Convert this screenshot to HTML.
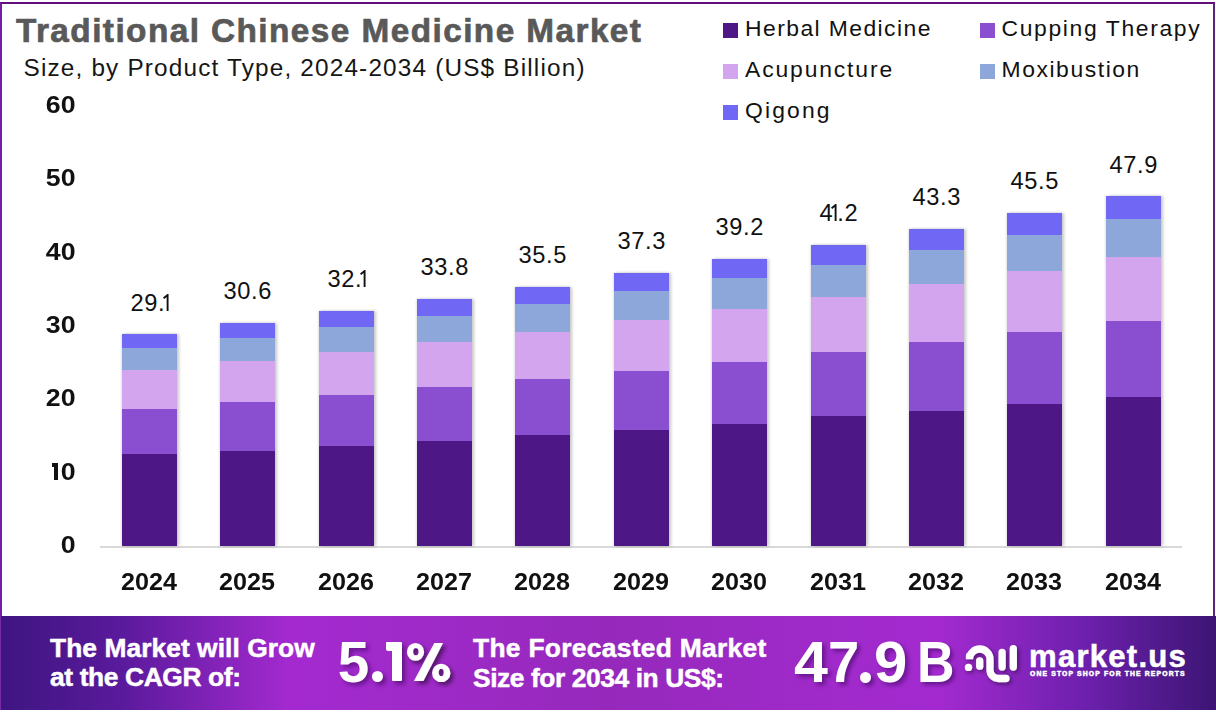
<!DOCTYPE html>
<html><head><meta charset="utf-8">
<style>
*{margin:0;padding:0;box-sizing:border-box}
html,body{width:1216px;height:712px;overflow:hidden;background:#fff;font-family:"Liberation Sans",sans-serif}
div{position:absolute;white-space:nowrap}
.frame{left:0;top:2px;width:1215px;height:620px;border:2px solid #6a1fa0;border-left-color:#7420a6;border-top-color:#640e7c;border-right-color:#562478;border-bottom:none}
.lb{left:0;top:616px;width:1px;height:94px;background:#7a2aa8;z-index:2}
.title{left:16px;top:14.3px;font-size:33.33px;line-height:33.33px;font-weight:bold;color:#595959;letter-spacing:1.44px;-webkit-text-stroke:0.7px #595959}
.sub{left:23.5px;top:55.8px;font-size:24.35px;line-height:24.35px;color:#161616;letter-spacing:1.17px}
.leg{font-size:22.9px;line-height:22.9px;color:#111}
.sw{width:15px;height:15px}
.bar{width:55px;box-shadow:2px 0 3px rgba(0,0,0,0.22),-1px 0 2px rgba(0,0,0,0.1)}
.seg{left:0;width:55px}
.val{width:120px;text-align:center;font-size:23.66px;line-height:23.66px;color:#111}
.one{display:inline-block;vertical-align:baseline;margin-left:-2.6px}
.yr{width:120px;text-align:center;font-size:24.08px;line-height:24.08px;font-weight:bold;color:#111;transform:scaleX(1.045)}
.yl{left:0;width:75.6px;text-align:right;font-size:24.08px;line-height:24.08px;font-weight:bold;color:#111;transform:scaleX(1.11);transform-origin:100% 0}
.axis{left:100px;top:546px;width:1082px;height:2px;background:#d9d9d9}
.banner{left:0;top:616px;width:1216px;height:94px;background:linear-gradient(90deg,#3e1580 0%,#5a1a9c 10%,#a42ad0 24%,#9629bc 50%,#a42ad0 77%,#6e20ae 89%,#3c1574 100%)}
.bt{color:#fff;font-weight:bold;-webkit-text-stroke:0.5px #fff}
.big{color:#fff;font-weight:bold;font-size:56.71px;line-height:56.71px;text-shadow:3px 3px 4px rgba(40,0,70,0.45)}
</style></head><body>
<div class="frame"></div>
<div class="title">Traditional Chinese Medicine Market</div>
<div class="sub">Size, by Product Type, 2024-2034 (US$ Billion)</div>
<div class="sw" style="left:723px;top:23.2px;background:#4e1786"></div><div class="leg" style="left:745.1px;top:16.6px;letter-spacing:1.42px">Herbal Medicine</div><div class="sw" style="left:979.5px;top:23.2px;background:#8a4fd0"></div><div class="leg" style="left:1001.5px;top:16.6px;letter-spacing:1.64px">Cupping Therapy</div><div class="sw" style="left:723px;top:64.2px;background:#d3a5ee"></div><div class="leg" style="left:745.1px;top:57.7px;letter-spacing:1.85px">Acupuncture</div><div class="sw" style="left:979.5px;top:64.2px;background:#8ea7da"></div><div class="leg" style="left:1001.5px;top:57.7px;letter-spacing:1.57px">Moxibustion</div><div class="sw" style="left:723px;top:105.2px;background:#7068f5"></div><div class="leg" style="left:745.1px;top:98.8px;letter-spacing:2.12px">Qigong</div>
<div class="yl" style="top:93.0px">60</div><div class="yl" style="top:166.3px">50</div><div class="yl" style="top:239.6px">40</div><div class="yl" style="top:312.9px">30</div><div class="yl" style="top:386.2px">20</div><div class="yl" style="top:459.5px">0</div><div style="left:54px;top:462.8px;width:4.2px;height:17.1px;background:#111"></div><div style="left:51.6px;top:462.8px;width:3px;height:3.9px;background:#111"></div><div class="yl" style="top:532.8px">0</div>
<div class="axis"></div>
<div class="bar" style="left:122px;top:334px;height:212px"><div class="seg" style="top:0px;height:14px;background:#7068f5"></div><div class="seg" style="top:14px;height:22px;background:#8ea7da"></div><div class="seg" style="top:36px;height:39px;background:#d3a5ee"></div><div class="seg" style="top:75px;height:45px;background:#8a4fd0"></div><div class="seg" style="top:120px;height:92px;background:#4e1786"></div></div><div class="val" style="left:89.5px;top:291.5px;letter-spacing:0.67px;text-indent:0.67px">29.<svg class="one" width="6.5" height="17" viewBox="0 0 6.5 17"><path d="M0.6 4.2 L4.6 1.0 L4.6 17" fill="none" stroke="#111" stroke-width="1.9" stroke-linejoin="miter"/></svg></div><div class="yr" style="left:88.5px;top:570.1px">2024</div><div class="bar" style="left:220px;top:323px;height:223px"><div class="seg" style="top:0px;height:15px;background:#7068f5"></div><div class="seg" style="top:15px;height:23px;background:#8ea7da"></div><div class="seg" style="top:38px;height:41px;background:#d3a5ee"></div><div class="seg" style="top:79px;height:49px;background:#8a4fd0"></div><div class="seg" style="top:128px;height:95px;background:#4e1786"></div></div><div class="val" style="left:187.5px;top:280.3px;letter-spacing:0.67px;text-indent:0.67px">30.6</div><div class="yr" style="left:186.5px;top:570.1px">2025</div><div class="bar" style="left:319px;top:311px;height:235px"><div class="seg" style="top:0px;height:16px;background:#7068f5"></div><div class="seg" style="top:16px;height:25px;background:#8ea7da"></div><div class="seg" style="top:41px;height:43px;background:#d3a5ee"></div><div class="seg" style="top:84px;height:51px;background:#8a4fd0"></div><div class="seg" style="top:135px;height:100px;background:#4e1786"></div></div><div class="val" style="left:286.5px;top:268.3px;letter-spacing:0.67px;text-indent:0.67px">32.<svg class="one" width="6.5" height="17" viewBox="0 0 6.5 17"><path d="M0.6 4.2 L4.6 1.0 L4.6 17" fill="none" stroke="#111" stroke-width="1.9" stroke-linejoin="miter"/></svg></div><div class="yr" style="left:285.5px;top:570.1px">2026</div><div class="bar" style="left:417px;top:299px;height:247px"><div class="seg" style="top:0px;height:17px;background:#7068f5"></div><div class="seg" style="top:17px;height:26px;background:#8ea7da"></div><div class="seg" style="top:43px;height:45px;background:#d3a5ee"></div><div class="seg" style="top:88px;height:54px;background:#8a4fd0"></div><div class="seg" style="top:142px;height:105px;background:#4e1786"></div></div><div class="val" style="left:384.5px;top:256.3px;letter-spacing:0.67px;text-indent:0.67px">33.8</div><div class="yr" style="left:383.5px;top:570.1px">2027</div><div class="bar" style="left:515px;top:287px;height:259px"><div class="seg" style="top:0px;height:17px;background:#7068f5"></div><div class="seg" style="top:17px;height:28px;background:#8ea7da"></div><div class="seg" style="top:45px;height:47px;background:#d3a5ee"></div><div class="seg" style="top:92px;height:56px;background:#8a4fd0"></div><div class="seg" style="top:148px;height:111px;background:#4e1786"></div></div><div class="val" style="left:482.5px;top:244.3px;letter-spacing:0.67px;text-indent:0.67px">35.5</div><div class="yr" style="left:481.5px;top:570.1px">2028</div><div class="bar" style="left:614px;top:273px;height:273px"><div class="seg" style="top:0px;height:18px;background:#7068f5"></div><div class="seg" style="top:18px;height:29px;background:#8ea7da"></div><div class="seg" style="top:47px;height:51px;background:#d3a5ee"></div><div class="seg" style="top:98px;height:59px;background:#8a4fd0"></div><div class="seg" style="top:157px;height:116px;background:#4e1786"></div></div><div class="val" style="left:581.5px;top:230.3px;letter-spacing:0.67px;text-indent:0.67px">37.3</div><div class="yr" style="left:580.5px;top:570.1px">2029</div><div class="bar" style="left:712px;top:259px;height:287px"><div class="seg" style="top:0px;height:19px;background:#7068f5"></div><div class="seg" style="top:19px;height:31px;background:#8ea7da"></div><div class="seg" style="top:50px;height:53px;background:#d3a5ee"></div><div class="seg" style="top:103px;height:62px;background:#8a4fd0"></div><div class="seg" style="top:165px;height:122px;background:#4e1786"></div></div><div class="val" style="left:679.5px;top:216.3px;letter-spacing:0.67px;text-indent:0.67px">39.2</div><div class="yr" style="left:678.5px;top:570.1px">2030</div><div class="bar" style="left:811px;top:245px;height:301px"><div class="seg" style="top:0px;height:20px;background:#7068f5"></div><div class="seg" style="top:20px;height:32px;background:#8ea7da"></div><div class="seg" style="top:52px;height:55px;background:#d3a5ee"></div><div class="seg" style="top:107px;height:64px;background:#8a4fd0"></div><div class="seg" style="top:171px;height:130px;background:#4e1786"></div></div><div class="val" style="left:778.5px;top:202.3px;letter-spacing:0.67px;text-indent:0.67px">4<svg class="one" width="6.5" height="17" viewBox="0 0 6.5 17"><path d="M0.6 4.2 L4.6 1.0 L4.6 17" fill="none" stroke="#111" stroke-width="1.9" stroke-linejoin="miter"/></svg>.2</div><div class="yr" style="left:777.5px;top:570.1px">2031</div><div class="bar" style="left:909px;top:229px;height:317px"><div class="seg" style="top:0px;height:21px;background:#7068f5"></div><div class="seg" style="top:21px;height:34px;background:#8ea7da"></div><div class="seg" style="top:55px;height:58px;background:#d3a5ee"></div><div class="seg" style="top:113px;height:69px;background:#8a4fd0"></div><div class="seg" style="top:182px;height:135px;background:#4e1786"></div></div><div class="val" style="left:876.5px;top:186.3px;letter-spacing:0.67px;text-indent:0.67px">43.3</div><div class="yr" style="left:875.5px;top:570.1px">2032</div><div class="bar" style="left:1007px;top:213px;height:333px"><div class="seg" style="top:0px;height:22px;background:#7068f5"></div><div class="seg" style="top:22px;height:36px;background:#8ea7da"></div><div class="seg" style="top:58px;height:61px;background:#d3a5ee"></div><div class="seg" style="top:119px;height:72px;background:#8a4fd0"></div><div class="seg" style="top:191px;height:142px;background:#4e1786"></div></div><div class="val" style="left:974.5px;top:170.3px;letter-spacing:0.67px;text-indent:0.67px">45.5</div><div class="yr" style="left:973.5px;top:570.1px">2033</div><div class="bar" style="left:1106px;top:196px;height:350px"><div class="seg" style="top:0px;height:23px;background:#7068f5"></div><div class="seg" style="top:23px;height:38px;background:#8ea7da"></div><div class="seg" style="top:61px;height:64px;background:#d3a5ee"></div><div class="seg" style="top:125px;height:76px;background:#8a4fd0"></div><div class="seg" style="top:201px;height:149px;background:#4e1786"></div></div><div class="val" style="left:1073.5px;top:153.5px;letter-spacing:0.67px;text-indent:0.67px">47.9</div><div class="yr" style="left:1072.5px;top:570.1px">2034</div>
<div class="banner"></div><div class="lb"></div>
<div class="bt" style="left:50px;top:634.7px;font-size:26.38px;line-height:26.38px;letter-spacing:0.05px">The Market will Grow</div>
<div class="bt" style="left:50px;top:664.4px;font-size:26.38px;line-height:26.38px;letter-spacing:-0.38px">at the CAGR of:</div>
<div class="big" style="left:337.8px;top:634.5px;font-size:56.71px;line-height:56.71px">5</div><div style="left:372px;top:670.5px;width:11px;height:11px;border-radius:50%;background:#fff;box-shadow:3px 3px 4px rgba(40,0,70,0.5)"></div><div style="left:392px;top:641.5px;width:10px;height:39.7px;background:#fff;border-radius:1px;box-shadow:3px 3px 4px rgba(40,0,70,0.5)"></div><div style="left:386.4px;top:641.5px;width:7px;height:9.8px;background:#fff;border-radius:1px 0 0 2px"></div><svg style="position:absolute;left:400px;top:636px;overflow:visible" width="56" height="52" viewBox="400 636 56 52">
<defs><filter id="ds2" x="-30%" y="-30%" width="160%" height="160%"><feGaussianBlur in="SourceAlpha" stdDeviation="2"/><feOffset dx="3" dy="3"/><feComponentTransfer><feFuncA type="linear" slope="0.5"/></feComponentTransfer><feMerge><feMergeNode/><feMergeNode in="SourceGraphic"/></feMerge></filter></defs>
<g filter="url(#ds2)"><path fill="#fff" fill-rule="evenodd" d="M406.9 651.9 A8.6 8.95 0 1 0 424.1 651.9 A8.6 8.95 0 1 0 406.9 651.9 Z M413.1 651.7 A2.75 3.65 0 1 0 418.6 651.7 A2.75 3.65 0 1 0 413.1 651.7 Z"/>
<path fill="#fff" fill-rule="evenodd" d="M432.1 672.9 A9.15 9.15 0 1 0 450.4 672.9 A9.15 9.15 0 1 0 432.1 672.9 Z M438.7 672.5 A2.55 3.65 0 1 0 443.8 672.5 A2.55 3.65 0 1 0 438.7 672.5 Z"/>
<polygon fill="#fff" points="434.3,642.9 443.1,642.9 423.4,680.9 413.9,680.9"/></g></svg>
<svg style="position:absolute;left:955px;top:635px;overflow:visible" width="70" height="55" viewBox="955 635 70 55">
<defs><filter id="ds" x="-30%" y="-30%" width="160%" height="160%"><feGaussianBlur in="SourceAlpha" stdDeviation="2"/><feOffset dx="2" dy="2"/><feComponentTransfer><feFuncA type="linear" slope="0.45"/></feComponentTransfer><feMerge><feMergeNode/><feMergeNode in="SourceGraphic"/></feMerge></filter></defs>
<g filter="url(#ds)" fill="none" stroke="#fff" stroke-width="7.3" stroke-linecap="round">
<path d="M969.5 656 L969.5 659.25 A10.25 10.25 0 0 1 990 659.25 L990 670 A8.5 8.5 0 0 0 998.5 678.5 L1006 678.5"/>
<path d="M979.7 661 L979.7 666.2"/>
<path d="M1002.1 652.5 L1002.1 667"/>
<path d="M1013.3 648.7 L1013.3 667"/>
<circle cx="968.5" cy="667.4" r="3.7" fill="#fff" stroke="none"/>
</g></svg>
<div class="bt" style="left:473px;top:634.5px;font-size:26.38px;line-height:26.38px;letter-spacing:0.30px">The Forecasted Market</div>
<div class="bt" style="left:473px;top:664.5px;font-size:26.38px;line-height:26.38px;letter-spacing:-0.42px">Size for 2034 in US$:</div>
<div class="big" style="left:793.7px;top:634.9px;font-size:56.8px;line-height:56.8px;transform:scaleX(1.073);transform-origin:0 0">4</div>
<div class="big" style="left:828.3px;top:634.9px;font-size:56.8px;line-height:56.8px;transform:scaleX(0.99);transform-origin:0 0">7</div>
<div style="left:860.1px;top:671.5px;width:11.2px;height:11.2px;border-radius:50%;background:#fff;box-shadow:3px 3px 4px rgba(40,0,70,0.5)"></div>
<div class="big" style="left:873.5px;top:634.9px;font-size:56.8px;line-height:56.8px;transform:scaleX(1.055);transform-origin:0 0">9</div>
<div class="big" style="left:917.4px;top:634.9px;font-size:56.8px;line-height:56.8px;transform:scaleX(0.915);transform-origin:0 0">B</div>
<div class="bt" style="left:1029px;top:640.5px;font-size:31.11px;line-height:31.11px;letter-spacing:1.23px">market.us</div>
<div class="bt" style="left:1030px;top:671.4px;font-size:6.8px;line-height:6.8px;letter-spacing:1.15px">ONE STOP SHOP FOR THE REPORTS</div>
</body></html>
